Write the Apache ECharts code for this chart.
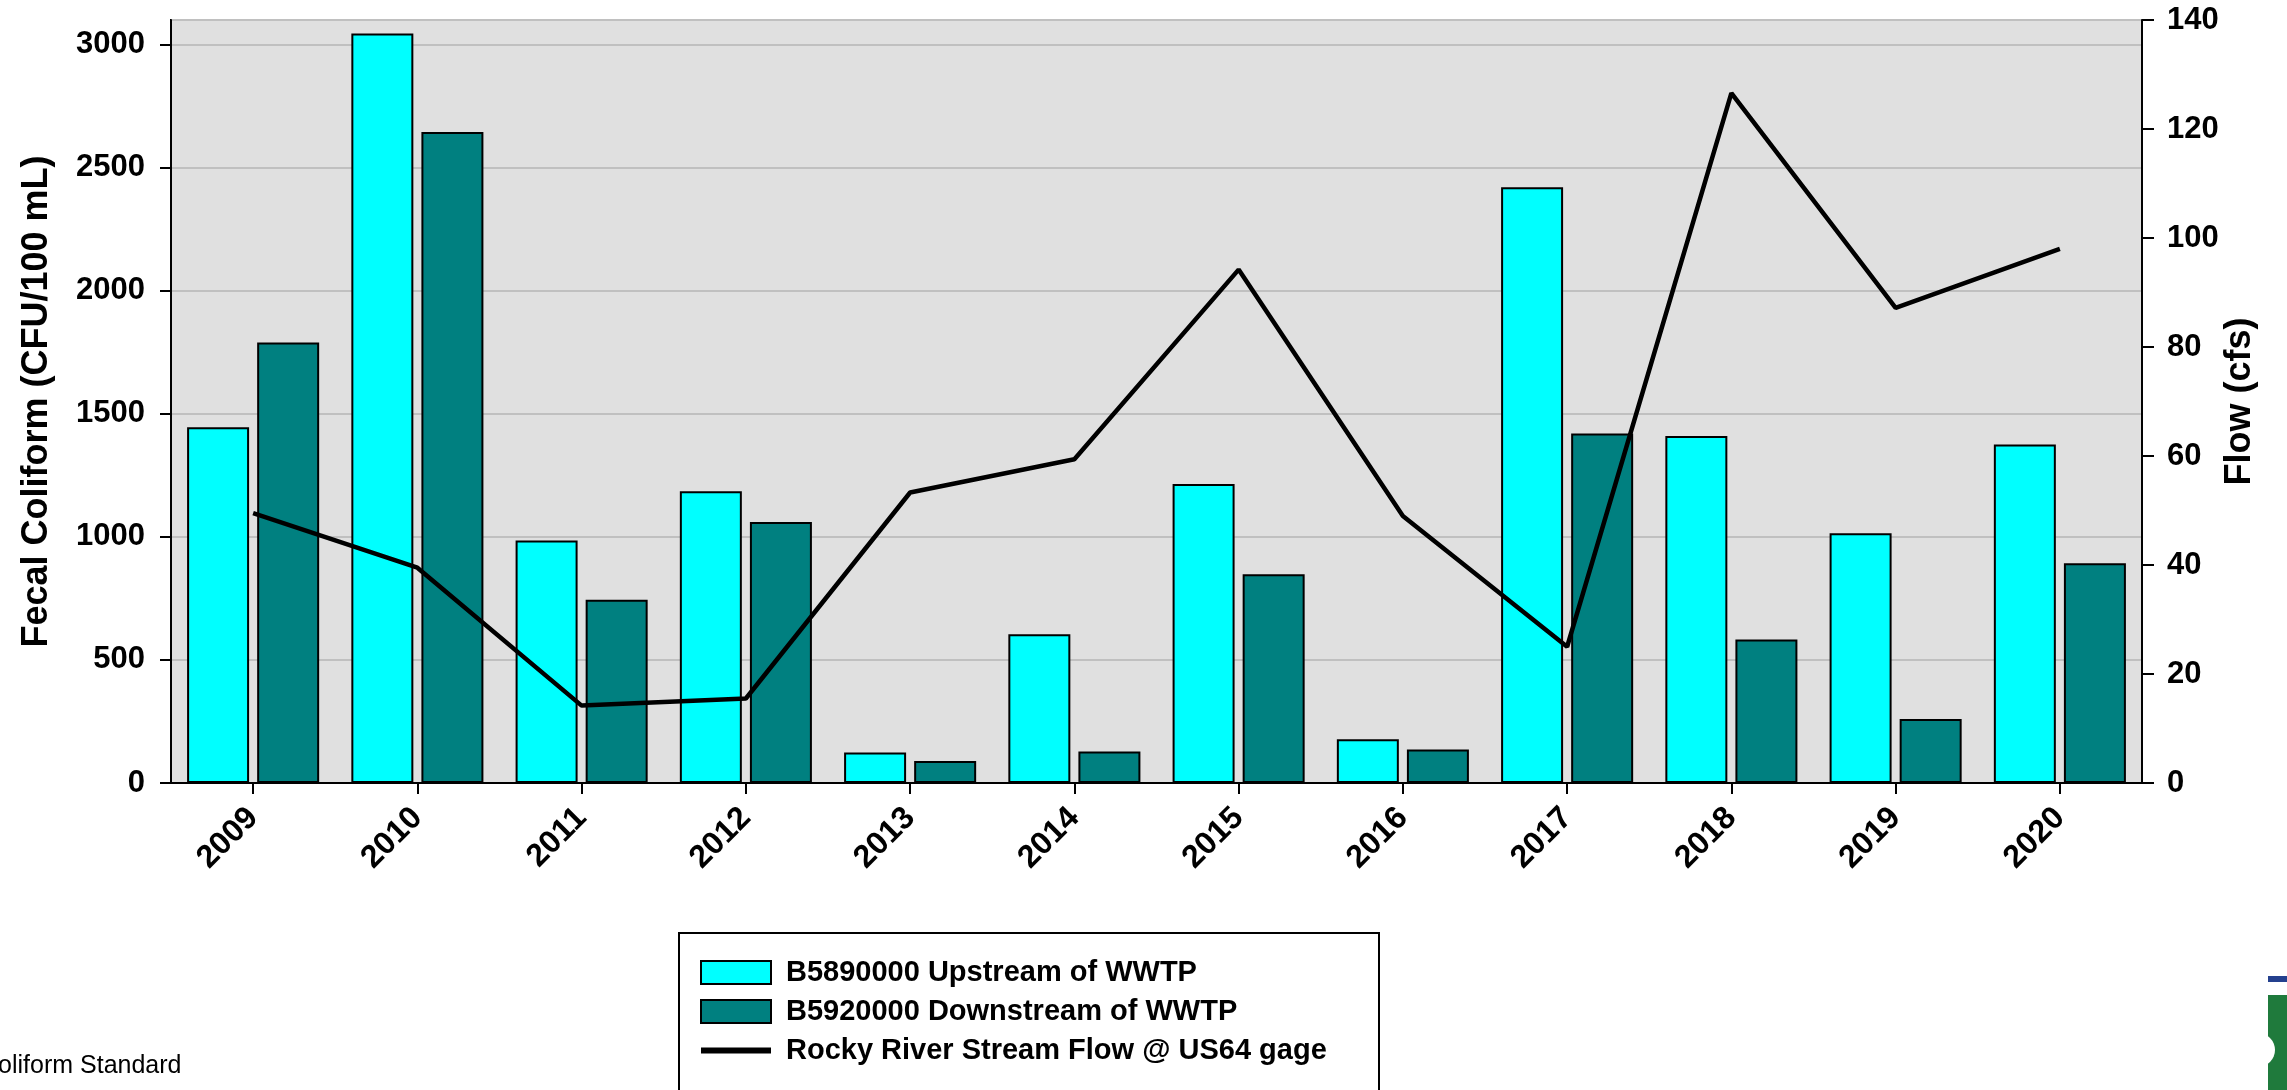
<!DOCTYPE html>
<html>
<head>
<meta charset="utf-8">
<script src="https://cdn.jsdelivr.net/npm/echarts@6/dist/echarts.min.js"></script>
<style>
  html, body { margin: 0; padding: 0; background: #fff; }
  #chart { width: 2287px; height: 1090px; }
</style>
</head>
<body>
<div id="chart"></div>
<script>
// data
const years = ['2009', '2010', '2011', '2012', '2013', '2014', '2015', '2016', '2017', '2018', '2019', '2020'];
const upstream = [1445, 3045, 985, 1185, 124, 604, 1215, 178, 2420, 1410, 1015, 1375];
const downstream = [1790, 2645, 745, 1060, 89, 128, 848, 136, 1420, 583, 260, 893];
const flow = [49.5, 39.5, 14.2, 15.5, 53.3, 59.4, 94.2, 49, 25, 126.6, 87.2, 98];

const seriesNames = ['B5890000 Upstream of WWTP', 'B5920000 Downstream of WWTP', 'Rocky River Stream Flow @ US64 gage'];

const FONT = 'Arial, "Liberation Sans", sans-serif';

const chart = echarts.init(document.getElementById('chart'), null, { renderer: 'canvas' });

const axisLine = { show: true, lineStyle: { color: '#000', width: 2 } };
const tickLabel = { color: '#000', fontFamily: FONT, fontWeight: 'bold', fontSize: 31 };
const plain = (v) => String(v);

const option = {
  backgroundColor: '#fff',
  animation: false,
  textStyle: { fontFamily: FONT },
  grid: {
    left: 171,
    right: 145,
    top: 20,
    bottom: 307,
    show: true,
    backgroundColor: '#E0E0E0',
    borderColor: '#000',
    borderWidth: 2,
  },
  legend: {
    left: 700,
    top: 958,
    orient: 'vertical',
    data: [
      { name: seriesNames[0], icon: 'rect' },
      { name: seriesNames[1], icon: 'rect' },
      // thick line icon, path box kept at 70x23 by the two move points
      { name: seriesNames[2], icon: 'path://M0,0 M0,8.5 L70,8.5 L70,14.5 L0,14.5 Z M70,23' },
    ],
    itemWidth: 70,
    itemHeight: 23,
    itemGap: 10,
    padding: 0,
    textStyle: { color: '#000', fontFamily: FONT, fontWeight: 'bold', fontSize: 29, padding: [0, 0, 0, 10] },
  },
  xAxis: {
    type: 'category',
    data: years,
    boundaryGap: true,
    axisLine: axisLine,
    axisTick: { show: true, alignWithLabel: true, length: 11, lineStyle: { color: '#000', width: 2 } },
    axisLabel: Object.assign({}, tickLabel, { rotate: 45, margin: 30, interval: 0, fontSize: 32 }),
    splitLine: { show: false },
  },
  yAxis: [
    {
      type: 'value',
      min: 0,
      max: 3100,
      interval: 500,
      name: 'Fecal Coliform (CFU/100 mL)',
      nameLocation: 'middle',
      nameRotate: 90,
      nameGap: 116,
      nameMoveOverlap: false,
      nameTextStyle: { color: '#000', fontFamily: FONT, fontWeight: 'bold', fontSize: 36 },
      axisLine: axisLine,
      axisTick: { show: true, length: 11, lineStyle: { color: '#000', width: 2 } },
      axisLabel: Object.assign({ margin: 26, showMaxLabel: false, formatter: plain }, tickLabel),
      splitLine: { show: true, lineStyle: { color: '#C0C0C0', width: 2 } },
    },
    {
      type: 'value',
      position: 'right',
      min: 0,
      max: 140,
      interval: 20,
      name: 'Flow (cfs)',
      nameLocation: 'middle',
      nameRotate: 90,
      nameGap: 80,
      nameMoveOverlap: false,
      nameTextStyle: { color: '#000', fontFamily: FONT, fontWeight: 'bold', fontSize: 36 },
      axisLine: axisLine,
      axisTick: { show: true, length: 12, lineStyle: { color: '#000', width: 2 } },
      axisLabel: Object.assign({ margin: 25, formatter: plain }, tickLabel),
      splitLine: { show: false },
    },
  ],
  series: [
    {
      name: seriesNames[0],
      type: 'bar',
      data: upstream,
      barWidth: 62,
      barGap: '13%',
      itemStyle: { color: '#00FFFF', borderColor: '#000', borderWidth: 2 },
    },
    {
      name: seriesNames[1],
      type: 'bar',
      data: downstream,
      barWidth: 62,
      barGap: '13%',
      itemStyle: { color: '#008080', borderColor: '#000', borderWidth: 2 },
    },
    {
      name: seriesNames[2],
      type: 'line',
      yAxisIndex: 1,
      data: flow,
      symbol: 'none',
      z: 5,
      lineStyle: { color: '#000', width: 4.5 },
      itemStyle: { color: '#000' },
    },
  ],
  graphic: [
    // legend frame, runs off the bottom edge like the reference
    {
      type: 'rect',
      z: 0,
      shape: { x: 679, y: 933, width: 700, height: 200 },
      style: { fill: '#fff', stroke: '#000', lineWidth: 2 },
    },
    // cut-off text at bottom left
    {
      type: 'text',
      left: -20,
      top: 1054,
      style: { text: 'Coliform Standard', fill: '#000', font: '25px ' + FONT },
    },
    // partial logo at bottom right
    { type: 'rect', shape: { x: 2268, y: 976, width: 19, height: 6 }, style: { fill: '#24408E' } },
    { type: 'rect', shape: { x: 2268, y: 995, width: 19, height: 95 }, style: { fill: '#1F7A3C' } },
    { type: 'circle', shape: { cx: 2258, cy: 1050, r: 17 }, style: { fill: '#fff' } },
  ],
};

chart.setOption(option);
</script>
</body>
</html>
